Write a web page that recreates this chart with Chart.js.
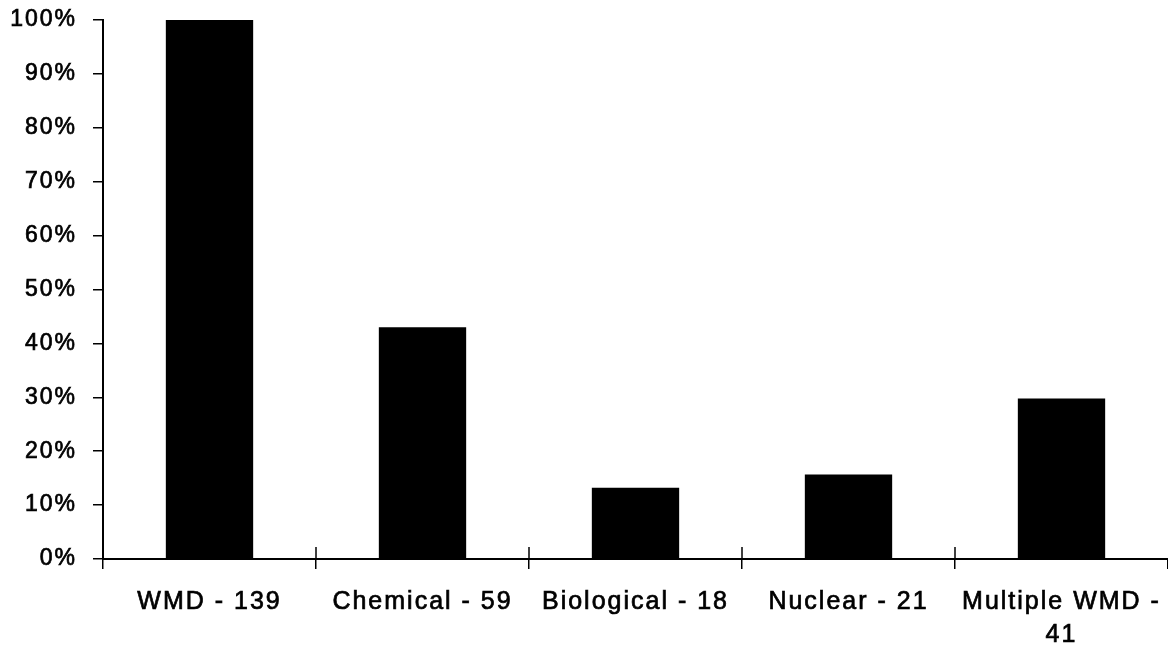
<!DOCTYPE html>
<html>
<head>
<meta charset="utf-8">
<title>WMD chart</title>
<script src="https://cdn.jsdelivr.net/npm/chart.js@4"></script>
<style>
  html, body { margin: 0; padding: 0; background: #fff; }
  #wrap { width: 1168px; height: 654px; }
</style>
</head>
<body>
<div id="wrap"><canvas id="wmdChart" width="1168" height="654"></canvas></div>
<script>
    // categories and percentages
    const categories = ["WMD - 139", "Chemical - 59", "Biological - 18", "Nuclear - 21", ["Multiple WMD -", "41"]];
    const percentValues = [100, 43, 13.2, 15.7, 29.8];
    const yTicks = [0, 10, 20, 30, 40, 50, 60, 70, 80, 90, 100];

    // wide spacing of the scanned lettering
    const spacingPlugin = {
      id: "spacing",
      beforeLayout(chart) { chart.ctx.letterSpacing = "2px"; },
      beforeDraw(chart) { chart.ctx.letterSpacing = "2px"; }
    };

    // small ticks crossing the x axis between categories (upper half)
    const crossTicks = {
      id: "crossTicks",
      afterDatasetsDraw(chart) {
        const xs = chart.scales.x;
        const ctx = chart.ctx;
        const bottom = chart.chartArea.bottom;
        ctx.save();
        ctx.strokeStyle = "#000";
        ctx.lineWidth = 1.5;
        for (let i = 1; i < categories.length; i++) {
          const px = (xs.getPixelForValue(i - 1) + xs.getPixelForValue(i)) / 2;
          ctx.beginPath();
          ctx.moveTo(px, bottom - 12);
          ctx.lineTo(px, bottom);
          ctx.stroke();
        }
        ctx.restore();
      }
    };

    const ctx = document.getElementById("wmdChart").getContext("2d");

    new Chart(ctx, {
      type: "bar",
      data: {
        labels: categories,
        datasets: [{
          data: percentValues,
          backgroundColor: "#000",
          borderWidth: 0,
          barPercentage: 0.41,
          categoryPercentage: 1
        }]
      },
      options: {
        responsive: false,
        animation: false,
        layout: { padding: { top: 20, right: 0, bottom: 0, left: 0 } },
        plugins: {
          legend: { display: false },
          tooltip: { enabled: false }
        },
        scales: {
          x: {
            grid: {
              display: true,
              drawOnChartArea: false,
              drawTicks: true,
              tickLength: 10,
              color: "#000",
              lineWidth: 1.5
            },
            border: { display: true, color: "#000", width: 2 },
            ticks: {
              color: "#000",
              textStrokeColor: "#000",
              textStrokeWidth: 0.7,
              maxRotation: 0,
              autoSkip: false,
              padding: 17,
              font: { family: "'Liberation Sans', Arial, sans-serif", size: 25, lineHeight: "33px" }
            },
            afterFit(scale) {
              scale.height = 95;
              scale.paddingLeft = 0;
              scale.paddingRight = 0;
            }
          },
          y: {
            min: 0,
            max: 100,
            afterBuildTicks(scale) { scale.ticks = yTicks.map(v => ({ value: v })); },
            grid: {
              display: true,
              drawOnChartArea: false,
              drawTicks: true,
              tickLength: 10,
              color: "#000",
              lineWidth: 1.5
            },
            border: { display: true, color: "#000", width: 2 },
            ticks: {
              color: "#000",
              textStrokeColor: "#000",
              textStrokeWidth: 0.7,
              padding: 16,
              callback: v => v + "%",
              font: { family: "'Liberation Sans', Arial, sans-serif", size: 23 }
            },
            afterFit(scale) {
              scale.width = 103;
              scale.paddingTop = 0;
              scale.paddingBottom = 0;
            }
          }
        }
      },
      plugins: [spacingPlugin, crossTicks]
    });
</script>
</body>
</html>
